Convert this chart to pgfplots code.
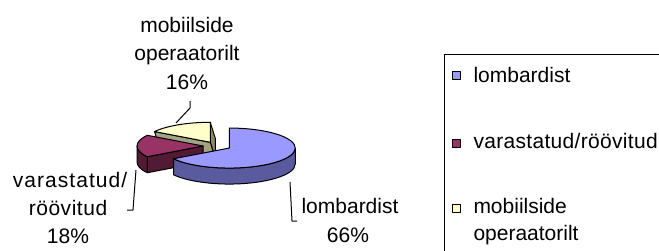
\documentclass[border=0pt]{standalone}
\usepackage{pgfplots}
\usepackage{pgfplotstable}
\pgfplotsset{compat=1.18}
\usepackage{fontspec}
\setmainfont{Liberation Sans}

\pgfplotstableread{
idx value
0 66
1 18
2 16
}\piedata

\definecolor{blueTop}{HTML}{9999FF}
\definecolor{blueSide}{HTML}{5A5A9E}
\definecolor{redTop}{HTML}{993366}
\definecolor{redSide}{HTML}{511B36}
\definecolor{yelTop}{HTML}{FFFFCC}
\definecolor{yelSide}{HTML}{A3A383}
\definecolor{yelSideB}{HTML}{8A8A6A}
\newcommand\lbl{\fontsize{21}{24}\selectfont}

\begin{document}
\begin{tikzpicture}
\pgfplotstablegetelem{0}{value}\of\piedata \let\vA\pgfplotsretval
\pgfplotstablegetelem{1}{value}\of\piedata \let\vB\pgfplotsretval
\pgfplotstablegetelem{2}{value}\of\piedata \let\vC\pgfplotsretval
\pgfmathsetmacro\tot{\vA+\vB+\vC}
\def\R{66}\def\RY{20}\def\D{16}\def\E{14}\def\CX{217}\def\CY{104}
\def\Rd{66pt}\def\RYd{20pt}
% angles (ccw from +x)
\pgfmathsetmacro\aA{90-360*(\vA/\tot)}\def\bA{90}
\pgfmathsetmacro\aB{90-360*((\vA+\vB)/\tot)}\let\bB\aA
\pgfmathsetmacro\aC{90-360}\let\bC\aB
% exploded centres
\pgfmathsetmacro\mA{(\aA+\bA)/2}
\pgfmathsetmacro\mB{(\aB+\bB)/2}
\pgfmathsetmacro\mC{(\aC+\bC)/2}
\pgfmathsetmacro\xA{\CX+\E*cos(\mA)}\pgfmathsetmacro\yA{\CY+\E*\RY/\R*sin(\mA)}
\pgfmathsetmacro\xB{\CX+\E*cos(\mB)}\pgfmathsetmacro\yB{\CY+\E*\RY/\R*sin(\mB)}
\pgfmathsetmacro\xC{\CX+\E*cos(\mC)}\pgfmathsetmacro\yC{\CY+\E*\RY/\R*sin(\mC)}
\def\sx{5}
\begin{axis}[at={(0,0)}, anchor=south west, width=659pt, height=250pt,
  scale only axis, xmin=0, xmax=659, ymin=0, ymax=250,
  axis lines=none, enlargelimits=false, clip=true]
\tikzset{every path/.append style={line width=1pt, line join=round}}
% ---------- yellow slice (mobiilside operaatorilt)
\filldraw[fill=yelSideB] (\xC,\yC) -- (\xC,{\yC+\RY}) -- ({\xC+\sx},{\yC+\RY-\D}) -- ({\xC+\sx},{\yC-\D}) -- cycle;
\filldraw[fill=yelSide] (\xC,\yC) -- ({\xC+\R*cos(\bC)},{\yC+\RY*sin(\bC)}) -- ({\xC+\sx+\R*cos(\bC)},{\yC-\D+\RY*sin(\bC)}) -- ({\xC+\sx},{\yC-\D}) -- cycle;
\filldraw[fill=yelTop] (\xC,\yC) -- ({\xC+\R*cos(\aC)},{\yC+\RY*sin(\aC)}) arc[start angle=\aC, end angle=\bC, x radius=\Rd, y radius=\RYd] -- cycle;
% ---------- red slice (varastatud/roovitud)
\filldraw[fill=redSide] ({\xB-\R},\yB) arc[start angle=-180, end angle=\bB, x radius=\Rd, y radius=\RYd] -- ({\xB+\R*cos(\bB)},{\yB-\D+\RY*sin(\bB)}) arc[start angle=\bB, end angle=-180, x radius=\Rd, y radius=\RYd] -- cycle;
\filldraw[fill=redSide] (\xB,\yB) -- ({\xB+\R*cos(\bB)},{\yB+\RY*sin(\bB)}) -- ({\xB+\R*cos(\bB)},{\yB-\D+\RY*sin(\bB)}) -- (\xB,{\yB-\D}) -- cycle;
\filldraw[fill=redTop] (\xB,\yB) -- ({\xB+\R*cos(\aB)},{\yB+\RY*sin(\aB)}) arc[start angle=\aB, end angle=\bB, x radius=\Rd, y radius=\RYd] -- cycle;
% ---------- blue slice (lombardist)
\filldraw[fill=blueSide] ({\xA+\R*cos(\aA)},{\yA+\RY*sin(\aA)}) arc[start angle=\aA, end angle=0, x radius=\Rd, y radius=\RYd] -- ({\xA+\R},{\yA-\D}) arc[start angle=0, end angle=\aA, x radius=\Rd, y radius=\RYd] -- cycle;
\filldraw[fill=blueTop] (\xA,\yA) -- ({\xA+\R*cos(\aA)},{\yA+\RY*sin(\aA)}) arc[start angle=\aA, end angle=\bA, x radius=\Rd, y radius=\RYd] -- cycle;
% ---------- leader lines
\draw (176,127) -- (190,142) -- (190,149);
\draw (136,80) -- (133,40) -- (127,40);
\draw (290,68) -- (292,29) -- (297,29);
% ---------- data labels
\node[anchor=base, font=\lbl, inner sep=0pt] at (187,218) {mobiilside};
\node[anchor=base, font=\lbl, inner sep=0pt] at (187,190) {operaatorilt};
\node[anchor=base, font=\lbl, inner sep=0pt] at (187,161) {16\%};
\node[anchor=base, font=\lbl\addfontfeature{LetterSpace=5}, inner sep=0pt] at (70,63) {varastatud/};
\node[anchor=base, font=\lbl\addfontfeature{LetterSpace=2.5}, inner sep=0pt] at (68,35) {röövitud};
\node[anchor=base, font=\lbl, inner sep=0pt] at (68,7) {18\%};
\node[anchor=base, font=\lbl, inner sep=0pt] at (350,37) {lombardist};
\node[anchor=base, font=\lbl, inner sep=0pt] at (348,8) {66\%};
% ---------- legend
\draw (444,196) rectangle (700,-20);
\filldraw[fill=blueTop] (452,171) rectangle (460,179);
\filldraw[fill=redTop] (452,103) rectangle (460,111);
\filldraw[fill=yelTop] (452,38) rectangle (460,46);
\node[anchor=base west, font=\lbl, inner sep=0pt] at (473,168) {lombardist};
\node[anchor=base west, font=\lbl\addfontfeature{LetterSpace=1.5}, inner sep=0pt] at (473,102) {varastatud/röövitud};
\node[anchor=base west, font=\lbl, inner sep=0pt] at (473,37) {mobiilside};
\node[anchor=base west, font=\lbl, inner sep=0pt] at (473,10) {operaatorilt};
\end{axis}
\pgfresetboundingbox
\path[use as bounding box] (current axis.south west) rectangle (current axis.north east);
\end{tikzpicture}
\end{document}
